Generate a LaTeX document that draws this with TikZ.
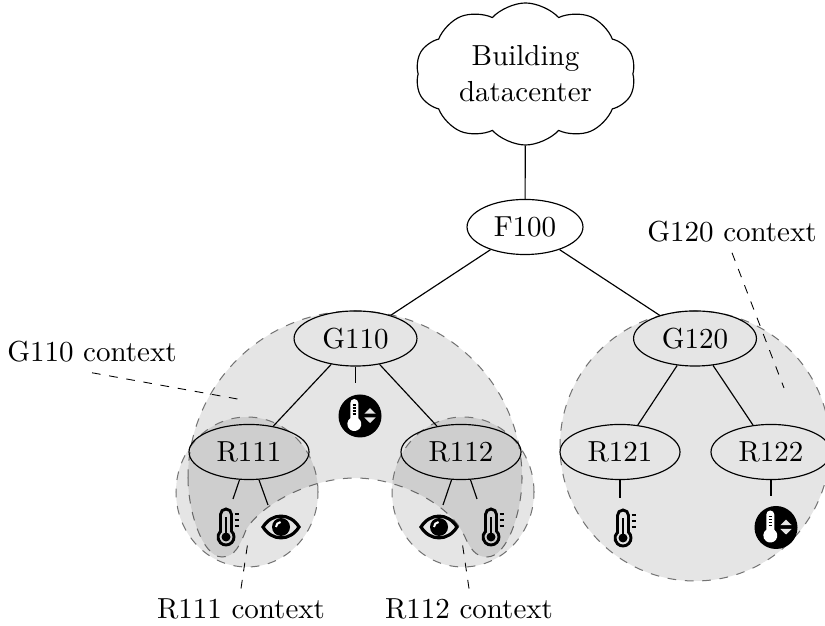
\documentclass[tikz,border=0pt]{standalone}
\usetikzlibrary{shapes.geometric,shapes.symbols}

\tikzset{
    devnode/.style={draw, ellipse, inner sep=0pt, minimum width=41.4pt, minimum height=19pt},
    cloudnode/.style={draw, cloud, cloud puffs=10, cloud puff arc=95, aspect=1.6, inner sep=0pt, align=center, minimum width=76pt, minimum height=49pt},
    ctxarea/.style={draw=black!55, dashed, fill=black, fill opacity=0.1, line width=0.35pt},
    leader/.style={dashed, line width=0.3pt},
    link/.style={line width=0.4pt},
    thermoicon/.pic={
        \draw[line width=1pt] (-5.5,5.8) -- (-5.5,22.5) arc[start angle=180, end angle=0, radius=5.5] -- (5.5,5.8)
            arc[start angle=46.5, end angle=-226.5, radius=8] -- cycle;
        \fill (0,0) circle[radius=4.5];
        \draw[line width=0.9pt] (0,0) -- (0,20);
        \foreach \y in {11,17,23}
            \draw[line width=0.9pt] (8.5,\y) -- (12.5,\y);
    },
    thermoact/.pic={
        \fill (0,0) circle[radius=21.5];
        \fill[white] (-9.7,-2.3) -- (-9.7,13) arc[start angle=180, end angle=0, radius=4] -- (-1.7,-2.3)
            arc[start angle=55, end angle=-235, radius=7] -- cycle;
        \foreach \y in {2,5,8,11}
            \draw[line width=0.4pt] (-7.5,\y) -- (-4,\y);
        \fill[white!90!black] (4.3,2.3) -- (15.7,2.3) -- (10,7.8) -- cycle;
        \fill[white!90!black] (4.3,-1.5) -- (15.7,-1.5) -- (10,-7) -- cycle;
    },
    eyeicon/.pic={
        \draw[line width=1.1pt, line join=miter] (-18,0) .. controls (-9,14.5) and (9,14.5) .. (18,0)
            .. controls (9,-14.5) and (-9,-14.5) .. cycle;
        \fill (0,0) circle[radius=9];
        \draw[white, line width=0.7pt] (-5,0) arc[start angle=180, end angle=95, radius=5];
    },
}

\begin{document}
\begin{tikzpicture}[x=0.345pt, y=0.345pt]
    \useasboundingbox (0,0) rectangle (825,626);
    \clip (0,0) rectangle (825,626);

    % Context areas
    \path[ctxarea] (188,148) arc[start angle=180, end angle=0, radius=167]
        .. controls (522,116) and (508,69) .. (487,69)
        .. controls (475,69) and (470,78) .. (464,91)
        .. controls (450,121) and (400,148) .. (355,148)
        .. controls (310,148) and (260,121) .. (246,96)
        .. controls (240,81) and (235,69) .. (222,69)
        .. controls (202,69) and (188,116) .. (188,148) -- cycle;
    \path[ctxarea] (247,134) ellipse[x radius=71, y radius=75];
    \path[ctxarea] (463,134) ellipse[x radius=71, y radius=75];
    \path[ctxarea] (695,180) circle[radius=135];

    % Nodes
    \node[cloudnode] (dc) at (525.5,552) {Building\\[0.5pt]datacenter};
    \node[devnode, minimum width=40pt] (f100) at (525,399) {F100};
    \node[devnode, minimum width=42.4pt] (g110) at (355.5,287.5) {G110};
    \node[devnode, minimum width=42.4pt] (g120) at (695,287.5) {G120};
    \node[devnode] (r111) at (249,174) {R111};
    \node[devnode] (r112) at (461,174) {R112};
    \node[devnode] (r121) at (620,174) {R121};
    \node[devnode] (r122) at (771,174) {R122};

    % Tree
    \draw[link] (dc) -- (f100);
    \draw[link] (f100) -- (g110);
    \draw[link] (f100) -- (g120);
    \draw[link] (g110) -- (r111);
    \draw[link] (g110) -- (r112);
    \draw[link] (g120) -- (r121);
    \draw[link] (g120) -- (r122);

    % Sensor stubs
    \coordinate (s110) at (355.5,243);
    \coordinate (s111a) at (233,127);
    \coordinate (s111b) at (268,121);
    \coordinate (s112a) at (443,121);
    \coordinate (s112b) at (477,127);
    \coordinate (s121) at (620,128);
    \coordinate (s122) at (771,130);
    \draw[link] (g110) -- (s110);
    \draw[link] (r111) -- (s111a);
    \draw[link] (r111) -- (s111b);
    \draw[link] (r112) -- (s112a);
    \draw[link] (r112) -- (s112b);
    \draw[link] (r121) -- (s121);
    \draw[link] (r122) -- (s122);

    % Icons
    \pic at (360,210) {thermoact};
    \pic at (226,89) {thermoicon};
    \pic at (281,99) {eyeicon};
    \pic at (439,99) {eyeicon};
    \pic at (491,89) {thermoicon};
    \pic at (623,88) {thermoicon};
    \pic at (776,98.5) {thermoact};

    % Context labels
    \node (g110ctx) at (92,274) {G110 context};
    \node (g120ctx) at (732,394) {G120 context};
    \node (r111ctx) at (241,17) {R111 context};
    \node (r112ctx) at (469,17) {R112 context};
    \coordinate (g110pt) at (243,226);
    \coordinate (g120pt) at (784,238);
    \coordinate (r111pt) at (248.5,88);
    \coordinate (r112pt) at (461.5,88);
    \draw[leader] (g110ctx.south) -- (g110pt);
    \draw[leader] (g120ctx.south) -- (g120pt);
    \draw[leader] (r111ctx.north) -- (r111pt);
    \draw[leader] (r112ctx.north) -- (r112pt);
\end{tikzpicture}
\end{document}
